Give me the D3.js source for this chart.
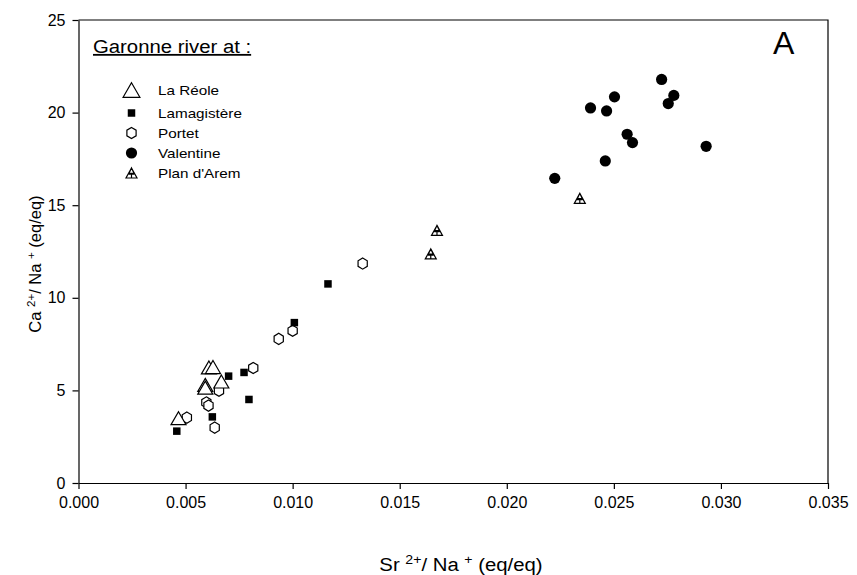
<!DOCTYPE html>
<html lang="en">
<head>
    <meta charset="UTF-8">
    <script src="https://d3js.org/d3.v7.min.js"></script>
    <style>
        body {
            margin: 0;
            background: #fff;
            font-family: "Liberation Sans", Arial, sans-serif;
        }
        .axis text {
            font-size: 16px;
            fill: #000;
        }
        .axis path, .axis line {
            stroke: #000;
            stroke-width: 1.2px;
        }
    </style>
</head>
<body>
    <div id="chart"></div>

    <script>
        // Sr2+/Na+ , Ca2+/Na+ (eq/eq) per sampling site
        const laReole = [[0.00609, 6.24], [0.00628, 6.26], [0.00592, 5.30], [0.00592, 5.15], [0.00667, 5.48], [0.00467, 3.50]];
        const lamagistere = [[0.01165, 10.75], [0.01008, 8.66], [0.00773, 5.97], [0.00701, 5.77], [0.00796, 4.51], [0.00625, 3.57], [0.00459, 2.80]];
        const portet = [[0.01327, 11.85], [0.01000, 8.22], [0.00935, 7.78], [0.00816, 6.21], [0.00656, 4.98], [0.00597, 4.35], [0.00607, 4.18], [0.00636, 2.99], [0.00506, 3.53]];
        const valentine = [[0.02723, 21.79], [0.02780, 20.93], [0.02754, 20.49], [0.02503, 20.85], [0.02391, 20.25], [0.02466, 20.09],
                           [0.02562, 18.83], [0.02587, 18.38], [0.02931, 18.18], [0.02460, 17.39], [0.02224, 16.45]];
        const planArem = [[0.02341, 15.37], [0.01674, 13.64], [0.01645, 12.37]];

        const xTicks = [0, 0.005, 0.010, 0.015, 0.020, 0.025, 0.030, 0.035];
        const yTicks = [0, 5, 10, 15, 20, 25];

        const legendNames = ["La Réole", "Lamagistère", "Portet", "Valentine", "Plan d'Arem"];

        const W = 857, H = 575;
        const margin = {top: 20, right: 29, bottom: 92, left: 78.5};
        const width = W - margin.left - margin.right,
              height = H - margin.top - margin.bottom;
        const stretch = 1.13; // text in the scan is a bit wide

        const svgRoot = d3.select("#chart").append("svg")
            .attr("width", W).attr("height", H);
        const svg = svgRoot.append("g")
            .attr("transform", `translate(${margin.left},${margin.top})`);

        const x = d3.scaleLinear().domain([0, 0.035]).range([0, width]);
        const y = d3.scaleLinear().domain([0, 25]).range([height, 0]);

        // frame (top + right)
        svg.append("path")
            .attr("d", `M0,0H${width}V${height}`)
            .attr("fill", "none").attr("stroke", "#000").attr("stroke-width", 1.2);

        svg.append("g").attr("class", "axis")
            .attr("transform", `translate(0,${height})`)
            .call(d3.axisBottom(x).tickValues(xTicks).tickFormat(d3.format(".3f")).tickSize(6).tickSizeOuter(0).tickPadding(8));

        svg.append("g").attr("class", "axis")
            .call(d3.axisLeft(y).tickValues(yTicks).tickSize(6).tickSizeOuter(0).tickPadding(7));

        // symbol paths
        const tri = (w, h) => `M0,${-h / 2}L${w / 2},${h / 2}L${-w / 2},${h / 2}Z`;
        const square = s => `M${-s / 2},${-s / 2}h${s}v${s}h${-s}Z`;
        const hexagon = r => {
            const p = d3.range(6).map(i => {
                const a = Math.PI / 3 * i - Math.PI / 2;
                return [r * Math.cos(a) * 0.95, r * Math.sin(a)];
            });
            return "M" + p.map(q => q.join(",")).join("L") + "Z";
        };
        const hatched = (w, h) => tri(w, h) + tri(w / 2.2, h / 2.2).replace(/^M0,[^L]+/, `M0,${-h / 2}`)
            .replace(/L([-\d.]+),([-\d.]+)/g, (m, a, b) => `L${a},${+b - h / 4 + 0.5}`)
            + `M${-w / 4},${h / 8}H${w / 4}M0,${h / 8}V${h / 2}`;

        function drawSymbol(g, kind, big) {
            const k = big ? 1.12 : 1;
            if (kind === 0) {
                g.append("path").attr("d", tri(15 * k, 13 * k))
                    .attr("fill", "#fff").attr("stroke", "#000").attr("stroke-width", 1.2);
            } else if (kind === 1) {
                g.append("path").attr("d", square(7.5))
                    .attr("fill", "#000");
            } else if (kind === 2) {
                g.append("path").attr("d", hexagon(5.6))
                    .attr("fill", "#fff").attr("stroke", "#000").attr("stroke-width", 1.2);
            } else if (kind === 3) {
                g.append("circle").attr("r", 5.6).attr("fill", "#000");
            } else {
                g.append("path").attr("d", hatched(11, 10))
                    .attr("fill", "#fff").attr("stroke", "#000").attr("stroke-width", 1.2);
            }
        }

        const series = [
            {data: portet, kind: 2},
            {data: lamagistere, kind: 1},
            {data: laReole, kind: 0},
            {data: valentine, kind: 3},
            {data: planArem, kind: 4}
        ];

        series.forEach(s => {
            svg.append("g").selectAll("g")
                .data(s.data)
                .enter()
                .append("g")
                .attr("transform", d => `translate(${x(d[0])},${y(d[1])})`)
                .each(function() { drawSymbol(d3.select(this), s.kind, false); });
        });

        // legend
        svgRoot.append("text")
            .attr("transform", `translate(93,53) scale(${stretch},1)`)
            .attr("font-size", 18)
            .attr("text-decoration", "underline")
            .text("Garonne river at :");

        const legendY = [90, 113, 133, 153, 173];
        legendNames.forEach((name, i) => {
            const g = svgRoot.append("g").attr("transform", `translate(131.5,${legendY[i]})`);
            drawSymbol(g, i, i === 0);
            svgRoot.append("text")
                .attr("transform", `translate(158,${legendY[i] + 5}) scale(${stretch},1)`)
                .attr("font-size", 13.5)
                .text(name);
        });

        svgRoot.append("text")
            .attr("x", 773).attr("y", 54)
            .attr("font-size", 32)
            .text("A");

        // axis titles
        const xt = svgRoot.append("text")
            .attr("transform", `translate(461,571) scale(${stretch},1)`)
            .attr("text-anchor", "middle")
            .attr("font-size", 18);
        xt.append("tspan").text("Sr ");
        xt.append("tspan").attr("baseline-shift", "super").attr("font-size", 12.5).text("2+");
        xt.append("tspan").text("/ Na ");
        xt.append("tspan").attr("baseline-shift", "super").attr("font-size", 12.5).text("+");
        xt.append("tspan").text(" (eq/eq)");

        const yt = svgRoot.append("text")
            .attr("transform", "translate(41,264) rotate(-90)")
            .attr("text-anchor", "middle")
            .attr("font-size", 16.5);
        yt.append("tspan").text("Ca ");
        yt.append("tspan").attr("baseline-shift", "super").attr("font-size", 11.5).text("2+");
        yt.append("tspan").text("/ Na ");
        yt.append("tspan").attr("baseline-shift", "super").attr("font-size", 11.5).text("+");
        yt.append("tspan").text(" (eq/eq)");
    </script>
</body>
</html>
